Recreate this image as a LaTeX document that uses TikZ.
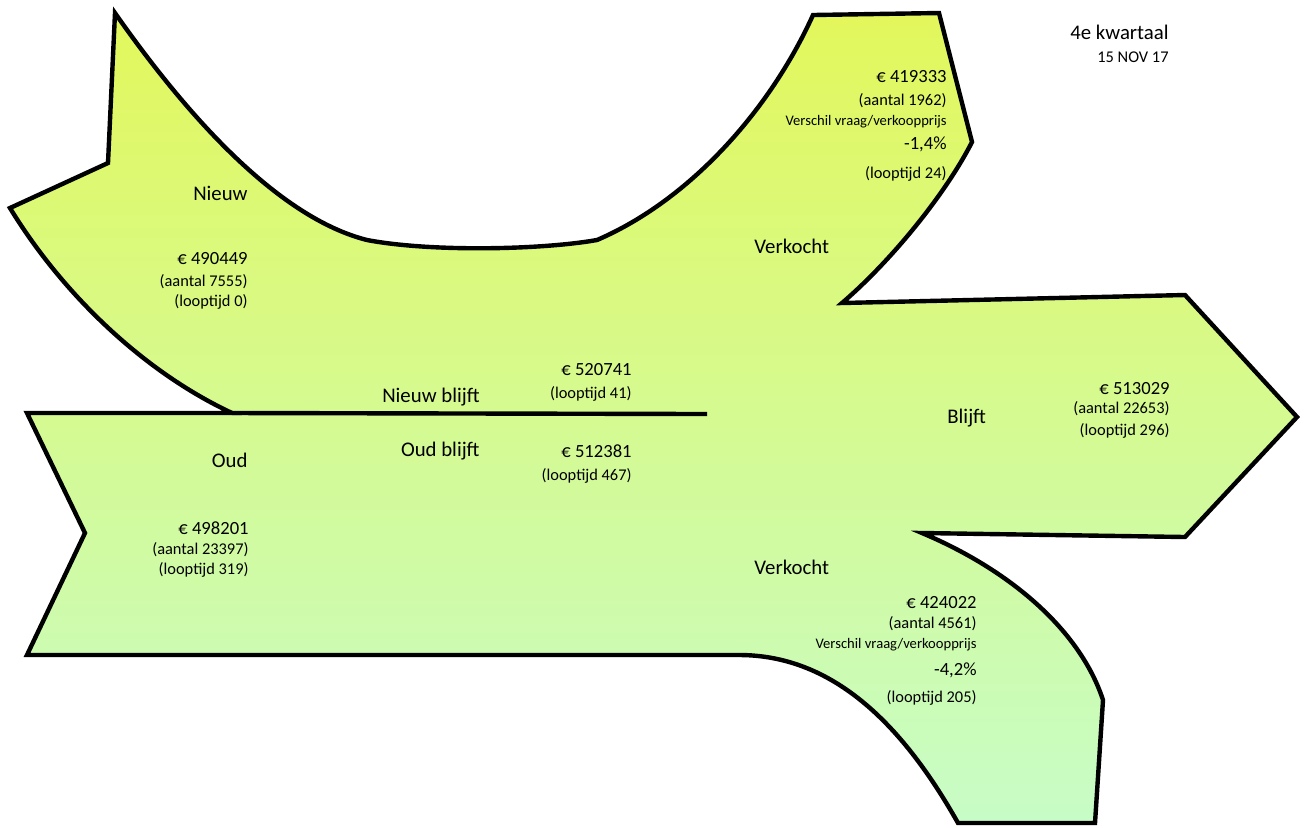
\documentclass[tikz,border=0pt]{standalone}
\usepackage{fontspec}
\setmainfont{Carlito}
\usepackage{tikz}

\definecolor{topgreen}{rgb}{0.89,0.97,0.36}
\definecolor{midgreen}{rgb}{0.84,0.98,0.60}
\definecolor{botgreen}{rgb}{0.78,0.99,0.78}

\tikzset{
  bigtxt/.style={font=\fontsize{10.4}{12}\selectfont,inner sep=0pt},
  amttxt/.style={font=\fontsize{9.3}{11}\selectfont,inner sep=0pt},
  smalltxt/.style={font=\fontsize{8.2}{10}\selectfont,inner sep=0pt},
  verstxt/.style={font=\fontsize{7.3}{9}\selectfont,inner sep=0pt},
  flow/.style={draw=black,line width=2.2pt,line join=miter,miter limit=6}
}

\begin{document}
\begin{tikzpicture}[x=0.5pt,y=-0.5pt]
\useasboundingbox (0,0) rectangle (1306,827);

% ================= Flow shape (Nieuw/Oud -> Blijft/Verkocht) =================
\shadedraw[flow,top color=topgreen,middle color=midgreen,bottom color=botgreen]
  (115,13) -- (108,163) -- (10,208)
  .. controls (60,290) and (140,370) .. (232,413)
  -- (27,413) -- (85,533) -- (27,655) -- (739,655)
  .. controls (830,655) and (900,720) .. (958,823)
  -- (1095,823) -- (1103,700)
  .. controls (1080,630) and (1010,570) .. (922,533)
  -- (1185,537) -- (1297,417) -- (1185,295) -- (842,303)
  .. controls (890,262) and (945,195) .. (972,142)
  -- (939,13) -- (813,15)
  .. controls (770,110) and (690,200) .. (597,240)
  .. controls (540,250) and (430,252) .. (367,240)
  .. controls (280,218) and (190,120) .. (115,13) -- cycle;
% divider between new and old
\draw[flow] (232,413) -- (707,414);

% ================= Inflow: Nieuw =================
\node[bigtxt,anchor=east] (nieuw) at (248,193) {Nieuw};
\node[amttxt,anchor=east] (nieuwamt) at (248,259) {€ 490449};
\node[smalltxt,anchor=east] (nieuwaantal) at (248,282) {(aantal 7555)};
\node[smalltxt,anchor=east] (nieuwloop) at (248,302) {(looptijd 0)};

% ================= Inflow: Oud =================
\node[bigtxt,anchor=east] (oud) at (248,460) {Oud};
\node[amttxt,anchor=east] (oudamt) at (249,528) {€ 498201};
\node[smalltxt,anchor=east] (oudaantal) at (249,550) {(aantal 23397)};
\node[smalltxt,anchor=east] (oudloop) at (249,570) {(looptijd 319)};

% ================= Middle: blijft =================
\node[bigtxt,anchor=east] (nblijft) at (480,397) {Nieuw blijft};
\node[amttxt,anchor=east] (nblijftamt) at (632,370) {€ 520741};
\node[smalltxt,anchor=east] (nblijftloop) at (632,394) {(looptijd 41)};
\node[bigtxt,anchor=east] (oblijft) at (480,451) {Oud blijft};
\node[amttxt,anchor=east] (oblijftamt) at (632,451) {€ 512381};
\node[smalltxt,anchor=east] (oblijftloop) at (632,476) {(looptijd 467)};

% ================= Outflow: Verkocht (top) =================
\node[amttxt,anchor=east] (vktamt) at (947,77) {€ 419333};
\node[smalltxt,anchor=east] (vktaantal) at (947,101) {(aantal 1962)};
\node[verstxt,anchor=east] (vktvers) at (947,122) {Verschil vraag/verkoopprijs};
\node[amttxt,anchor=east] (vktpct) at (947,144) {-1,4\%};
\node[smalltxt,anchor=east] (vktloop) at (947,174) {(looptijd 24)};
\node[bigtxt,anchor=west] (vkt) at (754,246) {Verkocht};

% ================= Outflow: Blijft =================
\node[bigtxt,anchor=west] (blijft) at (947,418) {Blijft};
\node[amttxt,anchor=east] (blijftamt) at (1170,389) {€ 513029};
\node[smalltxt,anchor=east] (blijftaantal) at (1170,409) {(aantal 22653)};
\node[smalltxt,anchor=east] (blijftloop) at (1170,431) {(looptijd 296)};

% ================= Outflow: Verkocht (bottom) =================
\node[bigtxt,anchor=west] (vkb) at (754,567) {Verkocht};
\node[amttxt,anchor=east] (vkbamt) at (977,603) {€ 424022};
\node[smalltxt,anchor=east] (vkbaantal) at (977,624) {(aantal 4561)};
\node[verstxt,anchor=east] (vkbvers) at (977,645) {Verschil vraag/verkoopprijs};
\node[amttxt,anchor=east] (vkbpct) at (977,670) {-4,2\%};
\node[smalltxt,anchor=east] (vkbloop) at (977,698) {(looptijd 205)};

% ================= Period =================
\node[bigtxt,anchor=east] (kwartaal) at (1169,32) {4e kwartaal};
\node[smalltxt,anchor=east] (datum) at (1169,57) {15 NOV 17};
\end{tikzpicture}
\end{document}
